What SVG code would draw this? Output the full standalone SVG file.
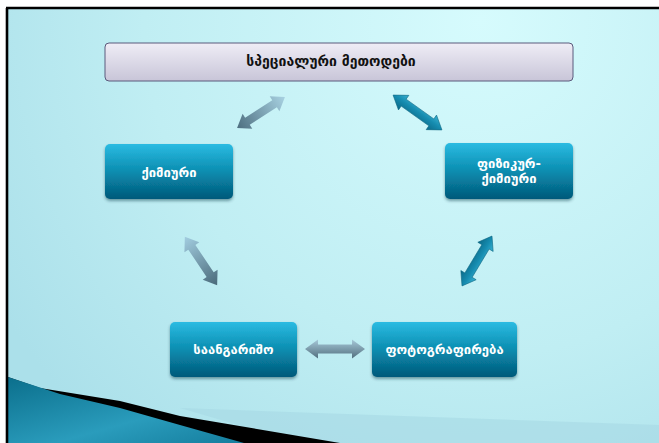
<svg xmlns="http://www.w3.org/2000/svg" width="659" height="443" viewBox="0 0 659 443">
<defs>
<radialGradient id="bg" cx="480" cy="20" r="560" gradientUnits="userSpaceOnUse">
<stop offset="0" stop-color="#d6fbfd"/>
<stop offset="0.6" stop-color="#c0eef3"/>
<stop offset="1" stop-color="#abe0ea"/>
</radialGradient>
<linearGradient id="wedge" x1="0" y1="0" x2="1" y2="1">
<stop offset="0" stop-color="#0b6f8c"/>
<stop offset="0.6" stop-color="#2a9cbc"/>
<stop offset="1" stop-color="#157e9e"/>
</linearGradient>
<linearGradient id="title" x1="0" y1="0" x2="0" y2="1">
<stop offset="0" stop-color="#efedf6"/>
<stop offset="1" stop-color="#c8c5d8"/>
</linearGradient>
<linearGradient id="node" x1="0" y1="0" x2="0" y2="1">
<stop offset="0" stop-color="#2bbbe2"/>
<stop offset="0.5" stop-color="#0a8db0"/>
<stop offset="1" stop-color="#03597a"/>
</linearGradient>
<linearGradient id="grayA" x1="0" y1="0" x2="1" y2="0">
<stop offset="0" stop-color="#4e6f80"/>
<stop offset="1" stop-color="#a8d2e2"/>
</linearGradient>
<linearGradient id="grayB" x1="0" y1="0" x2="1" y2="0">
<stop offset="0" stop-color="#a2cde0"/>
<stop offset="1" stop-color="#4a6a7a"/>
</linearGradient>
<linearGradient id="grayH" x1="0" y1="0" x2="0" y2="1">
<stop offset="0" stop-color="#a6c8d8"/>
<stop offset="1" stop-color="#526f7e"/>
</linearGradient>
<linearGradient id="teal" x1="0" y1="0" x2="0" y2="1">
<stop offset="0" stop-color="#3ab2d2"/>
<stop offset="0.45" stop-color="#168cb0"/>
<stop offset="1" stop-color="#0b6a88"/>
</linearGradient>
<filter id="sh" x="-10%" y="-10%" width="120%" height="135%">
<feDropShadow dx="0" dy="2" stdDeviation="1.8" flood-color="#003040" flood-opacity="0.45"/>
</filter>
<path id="dbl60" d="M-30,0 L-17,-10.5 L-17,-5 L17,-5 L17,-10.5 L30,0 L17,10.5 L17,5 L-17,5 L-17,10.5 Z"/>
</defs>
<style>
.ttl{font-family:"DejaVu Sans",sans-serif;font-weight:bold;font-size:14px;fill:#111;text-anchor:middle}
.lbl{font-family:"DejaVu Sans",sans-serif;font-weight:bold;font-size:13px;fill:#ffffff;text-anchor:middle}
.box{fill:url(#node);filter:url(#sh)}
</style>
<rect x="0" y="0" width="659" height="443" fill="#ffffff"/>
<rect x="7" y="8" width="652" height="435" fill="url(#bg)"/>
<polygon points="180,408 659,425 659,443 300,443" fill="#a6d9e4" opacity="0.6"/>
<polygon points="8,377 40,388 120,401 180,416 340,443 8,443" fill="#000000"/>
<polygon points="8,377 60,394 120,408 180,425 244,443 8,443" fill="url(#wedge)"/>
<line x1="7" y1="8" x2="7" y2="443" stroke="#000" stroke-width="2.6"/>
<line x1="6" y1="8" x2="659" y2="8" stroke="#000" stroke-width="2.6"/>

<g id="connectors">
<use href="#dbl60" transform="translate(261,112.5) rotate(-32.9) scale(0.95,0.85)" fill="url(#grayA)"/>
<use href="#dbl60" transform="translate(417.5,112.5) rotate(35.5) scale(1,0.85)" fill="url(#teal)" stroke="#0a6480" stroke-width="0.6"/>
<use href="#dbl60" transform="translate(201,261) rotate(56.3) scale(0.97,0.85)" fill="url(#grayB)"/>
<use href="#dbl60" transform="translate(477,261) rotate(121) scale(0.97,0.85)" fill="url(#teal)" stroke="#0a6480" stroke-width="0.6"/>
<use href="#dbl60" transform="translate(335,349) scale(1,0.9)" fill="url(#grayH)"/>
</g>

<g id="title-node">
<rect x="105" y="43" width="468" height="38" rx="4" fill="url(#title)" stroke="#5b5a7c" stroke-width="1"/>
<text class="ttl" x="331" y="66">სპეციალური  მეთოდები</text>
</g>
<g id="node-qimiuri">
<rect class="box" x="105" y="144" width="128" height="55" rx="5"/>
<text class="lbl" x="169" y="177">ქიმიური</text>
</g>
<g id="node-fizikur">
<rect class="box" x="445" y="143" width="128" height="56" rx="5"/>
<text class="lbl" x="509" y="168">ფიზიკურ-</text>
<text class="lbl" x="509" y="183">ქიმიური</text>
</g>
<g id="node-saangarisho">
<rect class="box" x="170" y="322" width="127" height="55" rx="5"/>
<text class="lbl" x="233.5" y="354">საანგარიშო</text>
</g>
<g id="node-fotografireba">
<rect class="box" x="372" y="322" width="145" height="55" rx="5"/>
<text class="lbl" x="444.5" y="354">ფოტოგრაფირება</text>
</g>
</svg>
